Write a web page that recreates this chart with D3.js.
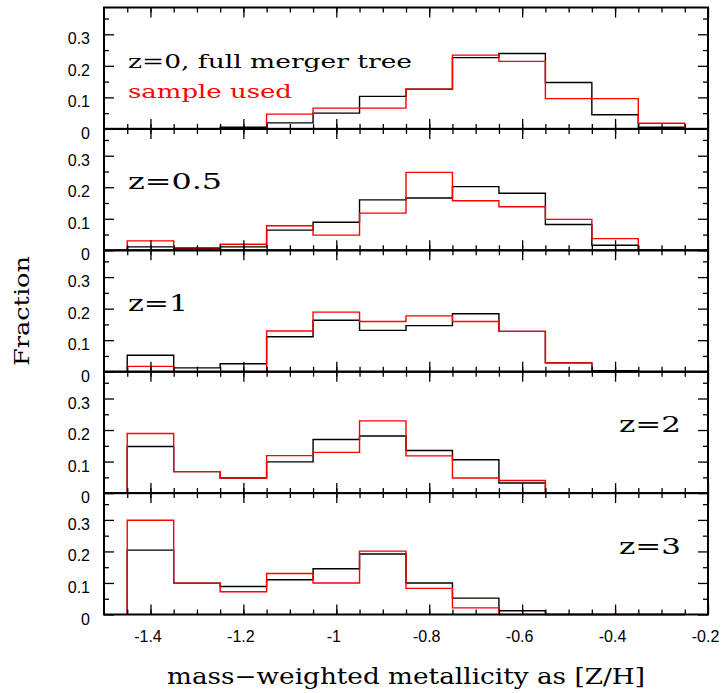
<!DOCTYPE html>
<html>
<head>
<meta charset="utf-8">
<script src="https://cdn.jsdelivr.net/npm/d3@7"></script>
<style>
  body { margin: 0; background: #fff; }
  svg { display: block; }
  .tick-label { font-family: "Liberation Sans", Arial, sans-serif; font-size: 16px; fill: #000; }
  .serif { font-family: "DejaVu Serif", serif; fill: #000; }
</style>
</head>
<body>
<svg id="chart" width="725" height="693"></svg>
<script>
// Metallicity bins: centres of 0.1-dex bins
const binCenters = [-1.4, -1.3, -1.2, -1.1, -1.0, -0.9, -0.8, -0.7, -0.6, -0.5, -0.4, -0.3];
const binWidth = 0.1;

// Fraction per bin: full merger tree (black) and sample used (red), per redshift
const fullTreeZ0   = [0, 0, 0.005, 0.019, 0.050, 0.103, 0.126, 0.226, 0.239, 0.147, 0.045, 0.005];
const sampleZ0     = [0, 0, 0, 0.047, 0.066, 0.066, 0.126, 0.234, 0.214, 0.096, 0.096, 0.018];
const fullTreeZ05  = [0.011, 0.006, 0.011, 0.064, 0.089, 0.160, 0.166, 0.202, 0.181, 0.082, 0.016, 0];
const sampleZ05    = [0.030, 0.008, 0.019, 0.078, 0.048, 0.118, 0.247, 0.157, 0.138, 0.098, 0.037, 0];
const fullTreeZ1   = [0.052, 0.012, 0.025, 0.111, 0.163, 0.131, 0.146, 0.184, 0.128, 0.028, 0.003, 0];
const sampleZ1     = [0.017, 0, 0, 0.129, 0.189, 0.159, 0.177, 0.159, 0.128, 0.028, 0, 0];
const fullTreeZ2   = [0.148, 0.068, 0.048, 0.099, 0.170, 0.181, 0.135, 0.106, 0.032, 0, 0, 0];
const sampleZ2     = [0.189, 0.068, 0.048, 0.119, 0.129, 0.229, 0.118, 0.048, 0.040, 0, 0, 0];
const fullTreeZ3   = [0.204, 0.099, 0.089, 0.110, 0.145, 0.192, 0.100, 0.052, 0.012, 0, 0, 0];
const sampleZ3     = [0.299, 0.099, 0.072, 0.130, 0.100, 0.201, 0.083, 0.021, 0, 0, 0, 0];

const panelLabels = ["z=0, full merger tree", "z=0.5", "z=1", "z=2", "z=3"];
const legendSecond = "sample used";

// Axis ticks
const xMajorTicks = [-1.4, -1.2, -1.0, -0.8, -0.6, -0.4, -0.2];
const xMinorTicks = d3.range(-1.45, -0.2, 0.05).map(v => +v.toFixed(2));
const yMajorTicks = [0, 0.1, 0.2, 0.3];
const yMinorTicks = [0.05, 0.15, 0.25, 0.35];
const xTitle = "mass\u2212weighted metallicity as [Z/H]";
const yTitle = "Fraction";

const panels = [
  { full: fullTreeZ0,  sample: sampleZ0,  label: panelLabels[0], side: "left", size: 18.5, len: 284 },
  { full: fullTreeZ05, sample: sampleZ05, label: panelLabels[1], side: "left", size: 23, len: 94 },
  { full: fullTreeZ1,  sample: sampleZ1,  label: panelLabels[2], side: "left", size: 23, len: 60 },
  { full: fullTreeZ2,  sample: sampleZ2,  label: panelLabels[3], side: "right", size: 23, len: 62 },
  { full: fullTreeZ3,  sample: sampleZ3,  label: panelLabels[4], side: "right", size: 23, len: 62 }
];

const svg = d3.select("#chart");
const plotLeft = 104, plotRight = 708, plotTop = 7.5, panelH = 121.4;

const x = d3.scaleLinear().domain([-1.5, -0.2]).range([plotLeft, plotRight]);

function stepPoints(values) {
  const pts = [[binCenters[0] - binWidth / 2, 0]];
  values.forEach((v, i) => {
    pts.push([binCenters[i] - binWidth / 2, v]);
    pts.push([binCenters[i] + binWidth / 2, v]);
  });
  pts.push([binCenters[binCenters.length - 1] + binWidth / 2, 0]);
  return pts;
}

const fmt = v => String(+v.toFixed(1));

panels.forEach((p, i) => {
  const top = plotTop + i * panelH;
  const bottom = top + panelH;
  const y = d3.scaleLinear().domain([0, 0.385]).range([bottom, top]);
  const g = svg.append("g");

  const line = d3.line().x(d => x(d[0])).y(d => y(d[1]));

  g.append("path").attr("d", line(stepPoints(p.full)))
    .attr("fill", "none").attr("stroke", "#000").attr("stroke-width", 1.4);
  g.append("path").attr("d", line(stepPoints(p.sample)))
    .attr("fill", "none").attr("stroke", "#ff0000").attr("stroke-width", 1.4);

  // inward ticks on all four sides
  const addAxis = (axis, tx, ty) => {
    const a = g.append("g").attr("transform", `translate(${tx},${ty})`).call(axis);
    a.select(".domain").remove();
    a.selectAll("line").attr("stroke", "#000").attr("stroke-width", 1.3);
    return a;
  };
  addAxis(d3.axisBottom(x).tickValues(xMinorTicks).tickSize(-5).tickFormat(""), 0, bottom);
  addAxis(d3.axisTop(x).tickValues(xMinorTicks).tickSize(-5).tickFormat(""), 0, top);
  addAxis(d3.axisTop(x).tickValues(xMajorTicks).tickSize(-10).tickFormat(""), 0, top);
  const xb = addAxis(d3.axisBottom(x).tickValues(xMajorTicks).tickSize(-10)
    .tickFormat(i === panels.length - 1 ? fmt : ""), 0, bottom);
  xb.selectAll("text").attr("class", "tick-label").attr("font-family", null).attr("font-size", null)
    .attr("y", 0).attr("dy", 27).attr("dx", -3);

  addAxis(d3.axisLeft(y).tickValues(yMinorTicks).tickSize(-5).tickFormat(""), plotLeft, 0);
  addAxis(d3.axisRight(y).tickValues(yMinorTicks).tickSize(-5).tickFormat(""), plotRight, 0);
  addAxis(d3.axisRight(y).tickValues(yMajorTicks).tickSize(-10).tickFormat(""), plotRight, 0);
  const yl = addAxis(d3.axisLeft(y).tickValues(yMajorTicks).tickSize(-10).tickPadding(14).tickFormat(fmt), plotLeft, 0);
  yl.selectAll("text").attr("class", "tick-label").attr("font-family", null).attr("font-size", null)
    .attr("dy", 9.5);

  // panel frame
  g.append("rect").attr("x", plotLeft).attr("y", top)
    .attr("width", plotRight - plotLeft).attr("height", panelH)
    .attr("fill", "none").attr("stroke", "#000").attr("stroke-width", 2);

  // panel annotation
  const tx = p.side === "left" ? 128 : 619;
  g.append("text").attr("class", "serif")
    .attr("x", tx).attr("y", top + 60.5)
    .attr("font-size", p.size)
    .attr("textLength", p.len).attr("lengthAdjust", "spacingAndGlyphs")
    .text(p.label);
  if (i === 0) {
    g.append("text").attr("class", "serif")
      .attr("x", tx).attr("y", top + 90.5)
      .attr("font-size", p.size).style("fill", "#ff0000")
      .attr("textLength", 164).attr("lengthAdjust", "spacingAndGlyphs")
      .text(legendSecond);
  }
});

// axis titles
svg.append("text").attr("class", "serif")
  .attr("x", (plotLeft + plotRight) / 2).attr("y", 684)
  .attr("text-anchor", "middle").attr("font-size", 22)
  .attr("textLength", 478).attr("lengthAdjust", "spacingAndGlyphs")
  .text(xTitle);

svg.append("text").attr("class", "serif")
  .attr("transform", `translate(29, ${plotTop + 2.5 * panelH}) rotate(-90)`)
  .attr("text-anchor", "middle").attr("font-size", 21)
  .attr("textLength", 110).attr("lengthAdjust", "spacingAndGlyphs")
  .text(yTitle);
</script>
</body>
</html>
